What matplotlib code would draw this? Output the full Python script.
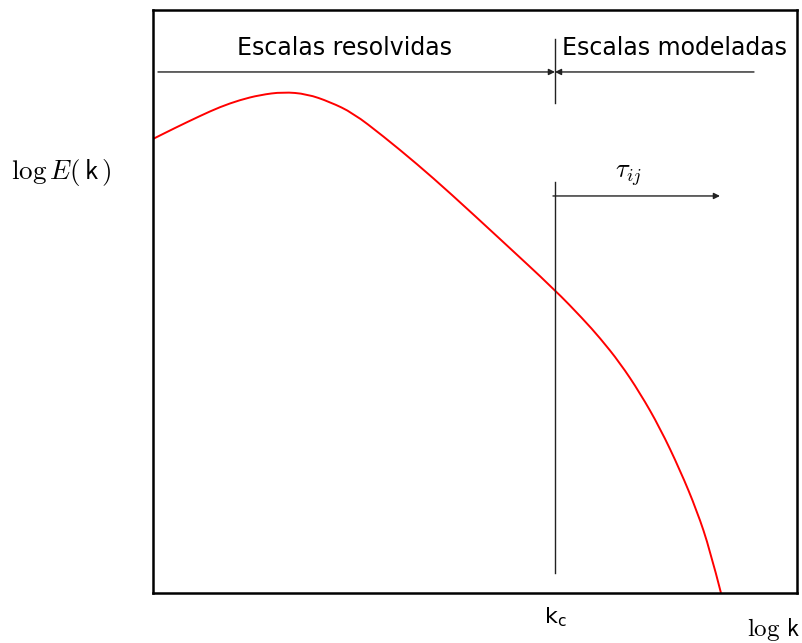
import matplotlib.pyplot as plt
from matplotlib.path import Path
from matplotlib.patches import PathPatch

# energy spectrum curve, arbitrary units (log k, log E)
log_k = [0, 22, 47, 67, 87, 107, 130, 154, 177, 200, 230, 264, 297,
         347, 402, 430, 447, 467, 487, 507, 527, 544, 557, 568]
log_E = [454, 465, 477, 486, 493, 498, 501, 499, 491, 480, 457, 429, 400,
         354, 303, 274, 255, 230, 200, 165, 123, 82, 43, 0]

k_c = 402  # cut-off wavenumber
x_max, y_max = 644, 583

fig = plt.figure(figsize=(8.03, 6.43), dpi=100)
ax = fig.add_axes([0.1905, 0.0778, 0.802, 0.9067])
ax.set_xlim(0, x_max)
ax.set_ylim(0, y_max)
ax.set_xticks([])
ax.set_yticks([])
for sp in ax.spines.values():
    sp.set_linewidth(1.8)

# smooth curve: quadratic bezier through the midpoints of the samples
pts = list(zip(log_k, log_E))
verts = [pts[0]]
codes = [Path.MOVETO]
verts.append(((pts[0][0] + pts[1][0]) / 2, (pts[0][1] + pts[1][1]) / 2))
codes.append(Path.LINETO)
for i in range(1, len(pts) - 1):
    nxt = pts[i + 1]
    end = nxt if i == len(pts) - 2 else ((pts[i][0] + nxt[0]) / 2, (pts[i][1] + nxt[1]) / 2)
    verts += [pts[i], end]
    codes += [Path.CURVE3, Path.CURVE3]
ax.add_patch(PathPatch(Path(verts, codes), fill=False, edgecolor='red', lw=1.4))

# cut-off markers
ax.plot([k_c, k_c], [490, 554], color='#222222', lw=1)
ax.plot([k_c, k_c], [20, 411], color='#222222', lw=1)

arrow = dict(arrowstyle='-|>', mutation_scale=9, lw=1, color='#222222',
             shrinkA=0, shrinkB=0)
ax.annotate('', xy=(k_c, 521), xytext=(5, 521), arrowprops=arrow)
ax.annotate('', xy=(k_c, 521), xytext=(601, 521), arrowprops=arrow)
ax.annotate('', xy=(567, 397), xytext=(400, 397), arrowprops=arrow)

ax.text(192, 545, 'Escalas resolvidas', fontsize=17, ha='center', va='center')
ax.text(522, 545, 'Escalas modeladas', fontsize=17, ha='center', va='center')
ax.text(476, 418, r'$\tau_{ij}$', fontsize=19, ha='center', va='center',
        math_fontfamily='cm')

ax.text(k_c, -24, r'$\mathsf{k_c}$', fontsize=16, ha='center', va='center',
        clip_on=False, math_fontfamily='dejavusans')
ax.text(620, -37, r'$\log\,\mathsf{k}$', fontsize=18, ha='center', va='center',
        clip_on=False, math_fontfamily='cm')
ax.text(-92, 420, r'$\log E(\,\mathsf{k}\,)$', fontsize=19.5, ha='center', va='center',
        clip_on=False, math_fontfamily='cm')

fig.savefig('out.png', dpi=100)
